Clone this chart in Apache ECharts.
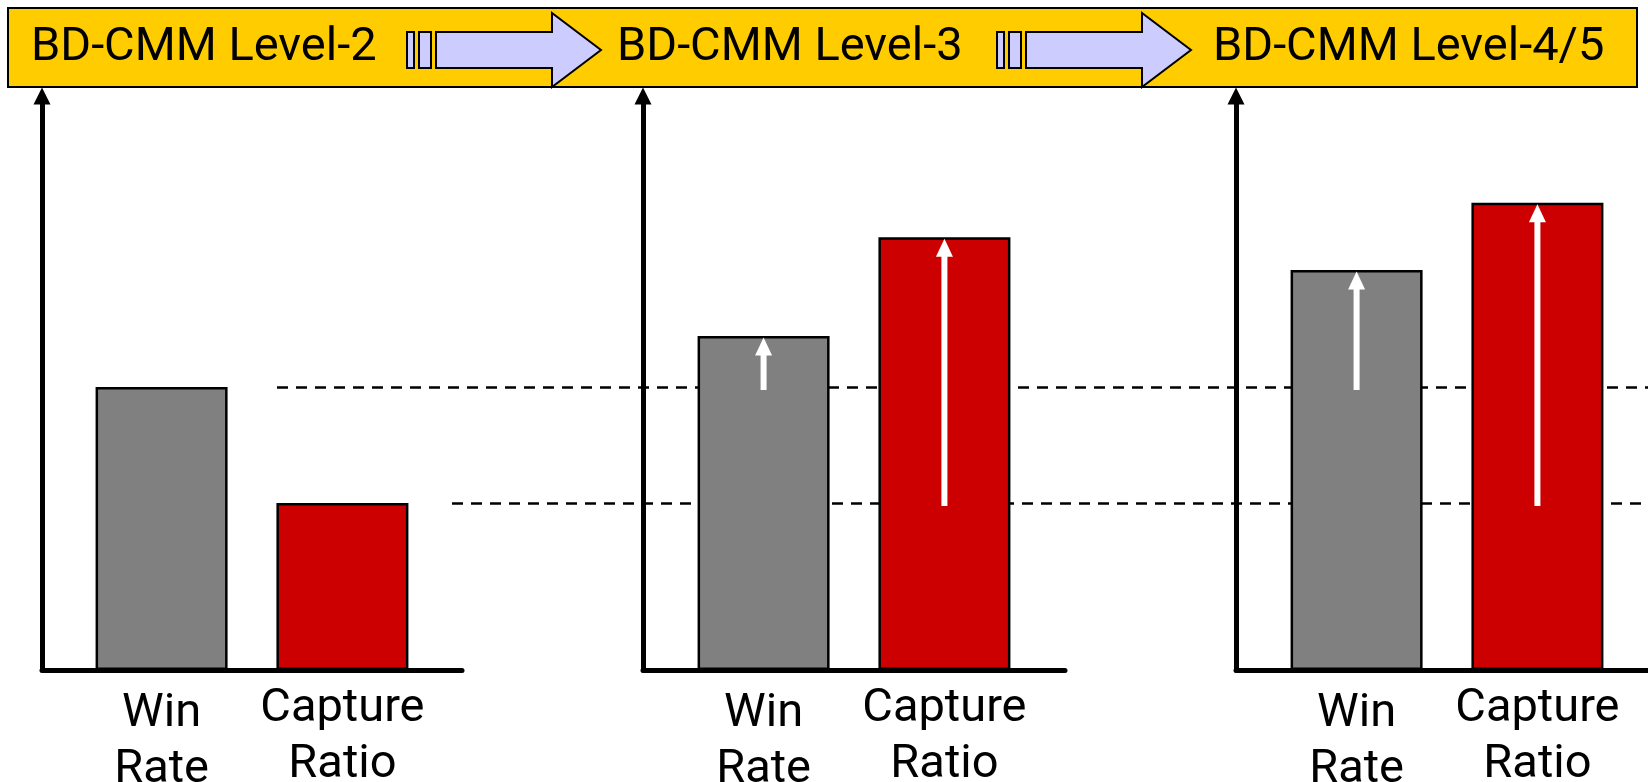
<!DOCTYPE html>
<html>
<head>
<meta charset="utf-8">
<script src="https://cdn.jsdelivr.net/npm/echarts@6/dist/echarts.min.js"></script>
<style>
  html, body { margin: 0; padding: 0; background: #fff; }
  #chart { width: 1648px; height: 782px; }
</style>
</head>
<body>
<div id="chart"></div>
<script>
// ---- data ----
const levels = ['BD-CMM Level-2', 'BD-CMM Level-3', 'BD-CMM Level-4/5'];
const metrics = ['Win Rate', 'Capture Ratio'];
const winRate = [49.3, 58.2, 69.7];
const captureRatio = [29.1, 75.4, 81.4];

// ---- style constants ----
const FONT = 'Roboto, "Liberation Sans", sans-serif';
const FS = 47;
const BAR_W = 132;
const GAP = 0.37;
const GRID_TOP = 96;
const GRID_H = 574;
const panelLeft = [42, 643, 1236];
const panelWidth = [420, 422, 422];
const dashLeft = [277, 452];

const chart = echarts.init(document.getElementById('chart'), null, { renderer: 'canvas' });

const grids = [];
const xAxes = [];
const yAxes = [];
const series = [];

for (let i = 0; i < levels.length; i++) {
  grids.push({ left: panelLeft[i], width: panelWidth[i], top: GRID_TOP, height: GRID_H,
    outerBoundsMode: 'none', containLabel: false });
  xAxes.push({
    type: 'category', gridIndex: i, data: [levels[i]],
    axisLabel: { show: false }, axisTick: { show: false },
    axisLine: { show: true, lineStyle: { color: '#000', width: 5 } }
  });
  yAxes.push({
    type: 'value', gridIndex: i, min: 0, max: 100,
    axisLabel: { show: false }, axisTick: { show: false }, splitLine: { show: false },
    axisLine: { show: true, symbol: ['none', 'triangle'], symbolSize: [17, 17],
      lineStyle: { color: '#000', width: 5 } }
  });
  const labelBase = {
    show: true, position: 'bottom', color: '#000', fontFamily: FONT, fontSize: FS,
    lineHeight: 56, align: 'center',
    formatter: p => p.seriesName.replace(' ', '\n')
  };
  series.push({
    type: 'bar', name: metrics[0], xAxisIndex: i, yAxisIndex: i,
    data: [winRate[i]], barWidth: BAR_W, barGap: (GAP * 100) + '%', z: 3,
    itemStyle: { color: '#808080', borderColor: '#000', borderWidth: 2.5 },
    label: Object.assign({}, labelBase, { distance: 16 })
  });
  series.push({
    type: 'bar', name: metrics[1], xAxisIndex: i, yAxisIndex: i,
    data: [captureRatio[i]], barWidth: BAR_W, barGap: (GAP * 100) + '%', z: 3,
    itemStyle: { color: '#CC0000', borderColor: '#000', borderWidth: 2.5 },
    label: Object.assign({}, labelBase, { distance: 11 })
  });
  if (i > 0) {
    series.push({
      type: 'custom', xAxisIndex: i, yAxisIndex: i, z: 6, silent: true,
      encode: { x: 0, y: [1, 2] },
      data: [[0, winRate[0], winRate[i], -1], [0, captureRatio[0], captureRatio[i], 1]],
      renderItem: function (params, api) {
        const half = BAR_W * (1 + GAP) / 2;
        const slot = api.value(3);
        const base = api.coord([api.value(0), api.value(1)]);
        const top = api.coord([api.value(0), api.value(2)]);
        const x = base[0] + slot * half;
        const tipY = top[1] + 1.5;
        const headH = 18, headW = 17, shaftW = 6;
        const shaftTop = tipY + headH - 1;
        return {
          type: 'group',
          children: [
            { type: 'rect', shape: { x: x - shaftW / 2, y: shaftTop, width: shaftW, height: base[1] + 3 - shaftTop },
              style: { fill: '#fff' } },
            { type: 'polygon', shape: { points: [[x, tipY], [x - headW / 2, tipY + headH], [x + headW / 2, tipY + headH]] },
              style: { fill: '#fff' } }
          ]
        };
      }
    });
  }
}

// dashed reference lines at the Level-2 values
const refValues = [winRate[0], captureRatio[0]];
for (let k = 0; k < 2; k++) {
  const gi = levels.length + k;
  grids.push({ left: dashLeft[k], right: 0, top: GRID_TOP, height: GRID_H,
    outerBoundsMode: 'none', containLabel: false });
  xAxes.push({ type: 'value', gridIndex: gi, min: 0, max: 1, show: false });
  yAxes.push({ type: 'value', gridIndex: gi, min: 0, max: 100, show: false });
  series.push({
    type: 'line', xAxisIndex: gi, yAxisIndex: gi, data: [], z: 1,
    markLine: {
      silent: true, symbol: 'none', label: { show: false }, z: 1,
      lineStyle: { color: '#000', width: 2.5, type: [11, 8] },
      data: [{ yAxis: refValues[k] }]
    }
  });
}

// banner decoration
const graphic = [
  { type: 'rect', z: 10, shape: { x: 8, y: 8, width: 1629, height: 79 },
    style: { fill: '#FFCC00', stroke: '#000', lineWidth: 2 } }
];
const arrowStarts = [407, 997];
arrowStarts.forEach(function (s) {
  const st = { fill: '#CCCCFF', stroke: '#000', lineWidth: 2 };
  graphic.push({ type: 'rect', z: 11, shape: { x: s, y: 32, width: 7, height: 36 }, style: st });
  graphic.push({ type: 'rect', z: 11, shape: { x: s + 12, y: 32, width: 12, height: 36 }, style: st });
  graphic.push({ type: 'polygon', z: 11, shape: { points: [
    [s + 29, 32], [s + 145, 32], [s + 145, 13], [s + 194, 50], [s + 145, 87], [s + 145, 68], [s + 29, 68]
  ] }, style: st });
});
const titleX = [31, 617, 1213];
levels.forEach(function (t, i) {
  graphic.push({ type: 'text', z: 12, style: {
    text: t, x: titleX[i], y: 48, textVerticalAlign: 'middle', fill: '#000',
    font: FS + 'px ' + FONT
  } });
});

chart.setOption({
  animation: false,
  backgroundColor: '#fff',
  grid: grids,
  xAxis: xAxes,
  yAxis: yAxes,
  series: series,
  graphic: graphic
});
</script>
</body>
</html>
